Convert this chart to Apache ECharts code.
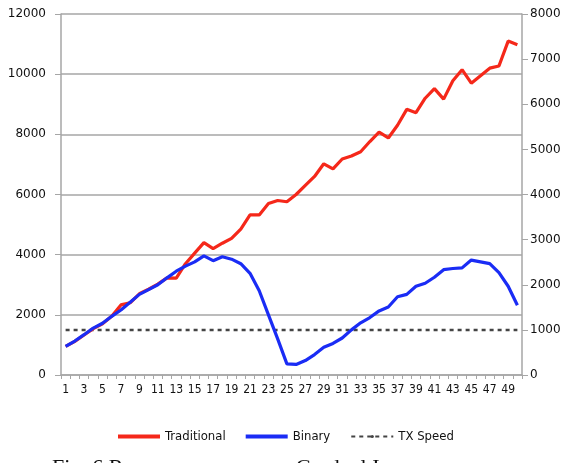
<!DOCTYPE html>
<html>
<head>
<meta charset="utf-8">
<script src="https://cdn.jsdelivr.net/npm/echarts@6/dist/echarts.min.js"></script>
<style>html,body{margin:0;padding:0;background:#fff}#c{width:573px;height:463px}</style>
</head>
<body>
<div id="c"></div>
<script>
var categories = [];
for (var k = 1; k <= 50; k++) categories.push(String(k));

var traditional = [950, 1120, 1330, 1540, 1700, 1950, 2330, 2400, 2700, 2850,
  3020, 3230, 3220, 3700, 4050, 4400, 4200, 4380, 4540, 4850,
  5320, 5320, 5700, 5800, 5760, 6000, 6300, 6600, 7020, 6850,
  7180, 7280, 7420, 7760, 8070, 7880, 8300, 8830, 8720, 9200,
  9520, 9170, 9780, 10150, 9700, 9950, 10200, 10270, 11100, 10980];

var binary = [950, 1130, 1340, 1560, 1720, 1950, 2160, 2420, 2680, 2840,
  3000, 3230, 3450, 3620, 3760, 3960, 3800, 3930, 3850, 3700,
  3380, 2800, 2000, 1200, 370, 350, 480, 680, 920, 1050,
  1230, 1500, 1735, 1910, 2130, 2260, 2600, 2680, 2950, 3050,
  3250, 3500, 3540, 3560, 3820, 3760, 3700, 3400, 2950, 2320];

var txSpeed = [];
for (var j = 0; j < 50; j++) txSpeed.push(1500);

var leftTicks = {min: 0, max: 12000, interval: 2000};
var rightTicks = {min: 0, max: 8000, interval: 1000};

var axisGray = '#a6a6a6';
var plain = function (v) { return String(v); };
var chart = echarts.init(document.getElementById('c'), null, {renderer: 'canvas'});
chart.setOption({
  animation: false,
  backgroundColor: '#fff',
  textStyle: {fontFamily: 'DejaVu Sans'},
  grid: {left: 61, right: 51, top: 14, bottom: 88, containLabel: false},
  legend: {
    top: 425,
    left: 113,
    itemWidth: 42,
    itemHeight: 4,
    itemGap: 20,
    textStyle: {fontSize: 13, color: '#111', fontFamily: 'DejaVu Sans Condensed'},
    data: [
      {name: 'Traditional', icon: 'rect'},
      {name: 'Binary', icon: 'rect'},
      {name: 'TX Speed'}
    ]
  },
  xAxis: {
    type: 'category',
    data: categories,
    boundaryGap: true,
    axisLine: {lineStyle: {color: axisGray, width: 1.5}},
    axisTick: {show: true, interval: 0, length: 4, lineStyle: {color: axisGray}},
    axisLabel: {interval: 1, color: '#111', fontSize: 12, margin: 9, fontFamily: 'DejaVu Sans Condensed'},
    splitLine: {show: false}
  },
  yAxis: [
    {
      type: 'value', min: leftTicks.min, max: leftTicks.max, interval: leftTicks.interval,
      position: 'left',
      axisLine: {show: true, lineStyle: {color: axisGray, width: 1.5}},
      axisTick: {show: true, length: 6, lineStyle: {color: axisGray}},
      axisLabel: {color: '#111', fontSize: 12, margin: 15, formatter: plain},
      splitLine: {show: true, lineStyle: {color: axisGray, width: 1.5}}
    },
    {
      type: 'value', min: rightTicks.min, max: rightTicks.max, interval: rightTicks.interval,
      position: 'right',
      axisLine: {show: true, lineStyle: {color: axisGray, width: 1.5}},
      axisTick: {show: true, length: 6, lineStyle: {color: axisGray}},
      axisLabel: {color: '#111', fontSize: 12, margin: 8, formatter: plain},
      splitLine: {show: false}
    }
  ],
  series: [
    {
      name: 'TX Speed', type: 'line', data: txSpeed, yAxisIndex: 0,
      symbol: 'none', z: 1,
      itemStyle: {color: '#444'},
      lineStyle: {color: '#444', width: 2.5, type: [4, 4]}
    },
    {
      name: 'Traditional', type: 'line', data: traditional, yAxisIndex: 0,
      symbol: 'none', z: 2,
      itemStyle: {color: '#f5281a'},
      lineStyle: {color: '#f5281a', width: 3.2}
    },
    {
      name: 'Binary', type: 'line', data: binary, yAxisIndex: 0,
      symbol: 'none', z: 3,
      itemStyle: {color: '#1a2cf5'},
      lineStyle: {color: '#1a2cf5', width: 3.2}
    }
  ],
  graphic: [
    {
      type: 'text', left: 52, top: 457,
      style: {text: 'Fig. 6 Response curve on a Gradual Increase', fontSize: 22, fontFamily: 'Liberation Serif', fill: '#111'}
    }
  ]
});
</script>
</body>
</html>
